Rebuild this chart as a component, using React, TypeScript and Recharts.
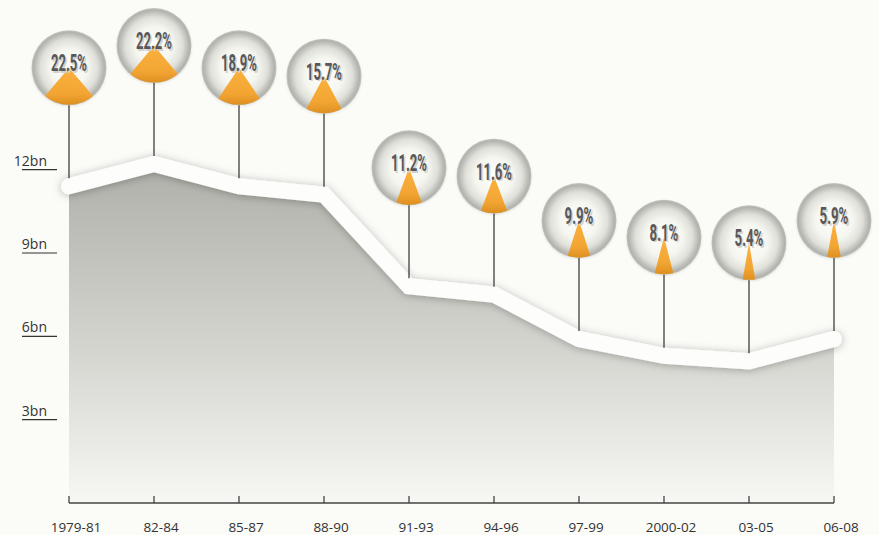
import { ComposedChart, Area, Line, XAxis, YAxis, Sector } from "recharts"

const periods = ["1979-81", "82-84", "85-87", "88-90", "91-93", "94-96", "97-99", "2000-02", "03-05", "06-08"]
const amountsBn = [11.4, 12.2, 11.4, 11.1, 7.8, 7.5, 5.9, 5.3, 5.1, 5.9]
const sharePct = [22.5, 22.2, 18.9, 15.7, 11.2, 11.6, 9.9, 8.1, 5.4, 5.9]
const yTicks = [3, 6, 9, 12]

const chartData = periods.map((period, i) => ({
  period,
  amount: amountsBn[i],
  share: sharePct[i],
}))

const BG = "#fbfbf7"
const BALLOON_RISE = 118.5
const BALLOON_R = 37.5
const BAND_HALF = 8

function Balloon(props: any) {
  const { cx, cy, payload, index } = props
  if (cx == null || cy == null) return <g key={`b-${index}`} />
  const by = cy - BALLOON_RISE
  const half = (payload.share / 100) * 180
  const label = `${payload.share.toFixed(1)}%`
  const textLen = label.length * 7.2
  return (
    <g key={`b-${index}`}>
      <line x1={cx} y1={by} x2={cx} y2={cy - BAND_HALF} stroke="#2f2f2f" strokeWidth={1.2} />
      <circle cx={cx} cy={by} r={BALLOON_R} fill="url(#balloonFill)" filter="url(#balloonShadow)" />
      <Sector
        cx={cx}
        cy={by}
        innerRadius={0}
        outerRadius={BALLOON_R - 0.5}
        startAngle={270 - half}
        endAngle={270 + half}
        fill="url(#wedgeFill)"
        stroke="none"
      />
      <text
        x={cx + 1.5}
        y={by + 5}
        textAnchor="middle"
        fontFamily="Roboto, 'Liberation Sans', sans-serif"
        fontWeight={700}
        fontSize={24}
        fill="#d2d2cc"
        textLength={textLen}
        lengthAdjust="spacingAndGlyphs"
      >
        {label}
      </text>
      <text
        x={cx}
        y={by + 3.5}
        textAnchor="middle"
        fontFamily="Roboto, 'Liberation Sans', sans-serif"
        fontWeight={700}
        fontSize={24}
        fill="#58585a"
        textLength={textLen}
        lengthAdjust="spacingAndGlyphs"
      >
        {label}
      </text>
    </g>
  )
}

function PeriodTick(props: any) {
  const { x, y, payload } = props
  return (
    <g>
      <line x1={x} y1={y - 7} x2={x} y2={y} stroke="#444" strokeWidth={1.3} />
      <text
        x={x + 7}
        y={y + 28.5}
        textAnchor="middle"
        fontFamily="'Open Sans', sans-serif"
        fontSize={13.5}
        fill="#333"
      >
        {payload.value}
      </text>
    </g>
  )
}

function AmountTick(props: any) {
  const { x, y, payload } = props
  return (
    <g>
      <text
        x={x - 22}
        y={y - 4}
        textAnchor="end"
        fontFamily="'Open Sans', sans-serif"
        fontSize={14}
        fill="#333"
      >
        {`${payload.value}bn`}
      </text>
      <line x1={x - 47} y1={y} x2={x - 12} y2={y} stroke="#333" strokeWidth={1.2} />
    </g>
  )
}

export default function App() {
  return (
    <div style={{ position: "absolute", left: 0, top: 0, width: 879, height: 535, background: BG }}>
      <style>{`.band-line .recharts-line-curve { filter: url(#bandShadow); }`}</style>
      <ComposedChart
        width={879}
        height={535}
        data={chartData}
        margin={{ top: 3, right: 45, bottom: 0, left: 0 }}
      >
        <defs>
          <linearGradient id="areaFill" x1="0" y1="0" x2="0" y2="1">
            <stop offset="0%" stopColor="#b0b0aa" />
            <stop offset="55%" stopColor="#d5d5d0" />
            <stop offset="100%" stopColor="#f7f7f3" />
          </linearGradient>
          <radialGradient id="balloonFill" cx="50%" cy="50%" r="50%">
            <stop offset="0%" stopColor="#fdfdfa" />
            <stop offset="50%" stopColor="#f6f6f1" />
            <stop offset="76%" stopColor="#e0e0da" />
            <stop offset="95%" stopColor="#b2b2ac" />
            <stop offset="100%" stopColor="#c6c6c0" />
          </radialGradient>
          <linearGradient id="wedgeFill" x1="0" y1="0" x2="0" y2="1">
            <stop offset="0%" stopColor="#fbb140" />
            <stop offset="70%" stopColor="#f2a533" />
            <stop offset="100%" stopColor="#dd9020" />
          </linearGradient>
          <filter id="bandShadow" x="-10%" y="-50%" width="120%" height="200%">
            <feDropShadow dx="0" dy="1" stdDeviation="4" floodColor="#000" floodOpacity="0.28" />
          </filter>
          <filter id="balloonShadow" x="-20%" y="-20%" width="140%" height="140%">
            <feDropShadow dx="0" dy="1" stdDeviation="1.2" floodColor="#000" floodOpacity="0.1" />
          </filter>
        </defs>
        <XAxis
          dataKey="period"
          interval={0}
          height={32}
          tickSize={0}
          tickMargin={0}
          tickLine={false}
          axisLine={{ stroke: "#444", strokeWidth: 1.5 }}
          tick={<PeriodTick />}
        />
        <YAxis
          domain={[0, 18]}
          ticks={yTicks}
          width={69}
          tickSize={0}
          tickMargin={0}
          tickLine={false}
          axisLine={false}
          tick={<AmountTick />}
        />
        <Area
          type="linear"
          dataKey="amount"
          stroke="none"
          fill="url(#areaFill)"
          fillOpacity={1}
          isAnimationActive={false}
          activeDot={false}
        />
        <Line
          className="band-line"
          type="linear"
          dataKey="amount"
          stroke="#fdfdfb"
          strokeWidth={BAND_HALF * 2}
          strokeLinecap="round"
          strokeLinejoin="miter"
          dot={false}
          activeDot={false}
          isAnimationActive={false}
        />
        <Line
          type="linear"
          dataKey="amount"
          stroke="none"
          dot={Balloon}
          activeDot={false}
          isAnimationActive={false}
        />
      </ComposedChart>
    </div>
  )
}
